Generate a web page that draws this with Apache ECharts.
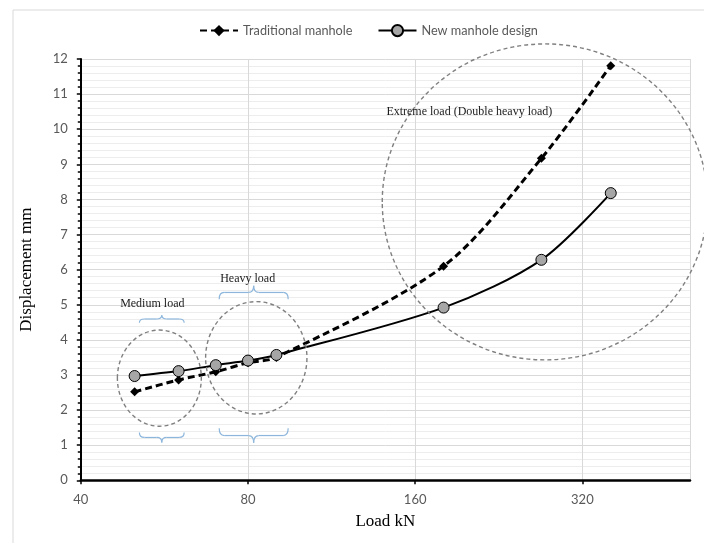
<!DOCTYPE html>
<html><head><meta charset="utf-8">
<script src="https://cdn.jsdelivr.net/npm/echarts@6/dist/echarts.min.js"></script>
<style>html,body{margin:0;padding:0;background:#fff}#c{width:704px;height:543px}</style>
</head><body><div id="c"></div>
<script>
// ---- data ----
const loads = [50, 60, 70, 80, 90, 180, 270, 360];           // kN
const traditional = [2.52, 2.86, 3.09, 3.35, 3.50, 6.10, 9.17, 11.81];
const newDesign = [2.97, 3.11, 3.28, 3.41, 3.57, 4.92, 6.28, 8.18];
const xTickLabels = [40, 80, 160, 320];
const seriesNames = ['Traditional manhole', 'New manhole design'];
const groupLabels = ['Medium load', 'Heavy load', 'Extreme load (Double heavy load)'];
const X_BASE = 40, X_MAX = 500;

// log2 axis helper (axis is log base 2, starting at 40)
const lx = v => Math.log2(v / X_BASE);
const mk = ys => loads.map((l, i) => [lx(l), ys[i]]);

const chart = echarts.init(document.getElementById('c'));
const serif = '"Liberation Serif", "Times New Roman", serif';
const sans = 'Lato, "Liberation Sans", sans-serif';

chart.setOption({
  backgroundColor: '#fff',
  animation: false,
  grid: { left: 80.8, right: 14, top: 59, bottom: 62.7 },
  legend: {
    top: 19, left: 194, itemWidth: 38, itemHeight: 14, itemGap: 25,
    textStyle: { color: '#595959', fontSize: 12.7, fontFamily: sans },
    data: seriesNames
  },
  xAxis: {
    type: 'value', min: 0, max: lx(X_MAX), interval: 1,
    name: 'Load kN', nameLocation: 'middle', nameGap: 33,
    nameTextStyle: { fontFamily: serif, fontSize: 17, color: '#000' },
    axisLine: { show: true, lineStyle: { color: '#000', width: 2.5 } },
    axisTick: { show: true, length: 4, lineStyle: { color: '#000', width: 1.5 } },
    axisLabel: {
      color: '#595959', fontSize: 13, fontFamily: sans, margin: 13, showMaxLabel: false,
      formatter: v => { const i = Math.round(v); return Math.abs(v - i) < 1e-6 && xTickLabels[i] !== undefined ? String(xTickLabels[i]) : ''; }
    },
    splitLine: { show: true, lineStyle: { color: '#d9d9d9', width: 1 } }
  },
  yAxis: {
    type: 'value', min: 0, max: 12, interval: 1,
    name: 'Displacement mm', nameLocation: 'middle', nameGap: 46,
    nameTextStyle: { fontFamily: serif, fontSize: 17, color: '#000' },
    axisLine: { show: true, lineStyle: { color: '#000', width: 2 } },
    axisTick: { show: true, length: 4, lineStyle: { color: '#000', width: 1.5 } },
    minorTick: { show: true, splitNumber: 5, length: 3, lineStyle: { color: '#000', width: 1.5 } },
    axisLabel: { color: '#595959', fontSize: 13, fontFamily: sans, margin: 13 },
    splitLine: { lineStyle: { color: '#d9d9d9', width: 1 } },
    minorSplitLine: { show: true, lineStyle: { color: '#ededed', width: 1 } }
  },
  series: [
    {
      name: seriesNames[0], type: 'line', data: mk(traditional), smooth: 0.3,
      symbol: 'diamond', symbolSize: 9,
      itemStyle: { color: '#000' },
      lineStyle: { color: '#000', width: 3, type: [7, 4] },
      z: 2
    },
    {
      name: seriesNames[1], type: 'line', data: mk(newDesign), smooth: 0.3,
      symbol: 'circle', symbolSize: 11,
      itemStyle: { color: '#a6a6a6', borderColor: '#000', borderWidth: 1 },
      lineStyle: { color: '#000', width: 2 },
      z: 3
    }
  ]
});

// ---- annotations (positioned in data coordinates) ----
const P = (load, d) => chart.convertToPixel({ gridIndex: 0 }, [lx(load), d]);
const ellipses = [
  { load: 55.4, d: 2.91, rxOct: 0.251, ry: 1.37 },
  { load: 82.8, d: 3.49, rxOct: 0.303, ry: 1.60 },
  { load: 274, d: 7.93, rxOct: 0.973, ry: 4.50 }
];
const braces = [
  { a: 51.0, b: 61.4, end: 4.49, tip: 4.70 },
  { a: 51.0, b: 61.4, end: 1.36, tip: 1.08 },
  { a: 71.0, b: 94.5, end: 5.16, tip: 5.54 },
  { a: 71.0, b: 94.5, end: 1.48, tip: 1.07 }
];
const labels = [
  { load: 53.8, d: 5.04 },
  { load: 79.9, d: 5.75 },
  { load: 200.3, d: 10.5 }
];

const g = [];
g.push({ type: 'rect', shape: { x: 13, y: 10, width: 720, height: 600 },
  style: { fill: 'none', stroke: '#d9d9d9', lineWidth: 1 }, z: 0 });

ellipses.forEach(e => {
  const c = P(e.load, e.d);
  const r = P(e.load * Math.pow(2, e.rxOct), e.d + e.ry);
  g.push({ type: 'ellipse', shape: { cx: c[0], cy: c[1], rx: r[0] - c[0], ry: c[1] - r[1] },
    style: { fill: 'none', stroke: '#808080', lineWidth: 1.4, lineDash: [4, 3] }, z: 10 });
});

const braceColor = '#8db6dc';
braces.forEach(b => {
  const p1 = P(b.a, b.end), p2 = P(b.b, b.end), pt = P(Math.sqrt(b.a * b.b), b.tip);
  const x1 = p1[0], x2 = p2[0], xc = (x1 + x2) / 2, yE = p1[1], yT = pt[1];
  const yM = (yE + yT) / 2, r = 5;
  const st = { fill: 'none', stroke: braceColor, lineWidth: 1.2 };
  const q = (sx, sy, cx, cy, ex, ey) => g.push({ type: 'bezierCurve',
    shape: { x1: sx, y1: sy, cpx1: cx, cpy1: cy, x2: ex, y2: ey }, style: st, z: 10 });
  const l = (sx, sy, ex, ey) => g.push({ type: 'line',
    shape: { x1: sx, y1: sy, x2: ex, y2: ey }, style: st, z: 10 });
  q(x1, yE, x1, yM, x1 + r, yM);
  l(x1 + r, yM, xc - r, yM);
  q(xc - r, yM, xc, yM, xc, yT);
  q(xc, yT, xc, yM, xc + r, yM);
  l(xc + r, yM, x2 - r, yM);
  q(x2 - r, yM, x2, yM, x2, yE);
});

labels.forEach((t, i) => {
  const p = P(t.load, t.d);
  g.push({ type: 'text', x: p[0], y: p[1], z: 11,
    style: { text: groupLabels[i], font: '12px ' + serif, fill: '#1a1a1a',
      align: 'center', verticalAlign: 'middle', textAlign: 'center', textVerticalAlign: 'middle' } });
});

chart.setOption({ graphic: g });
</script>
</body></html>
